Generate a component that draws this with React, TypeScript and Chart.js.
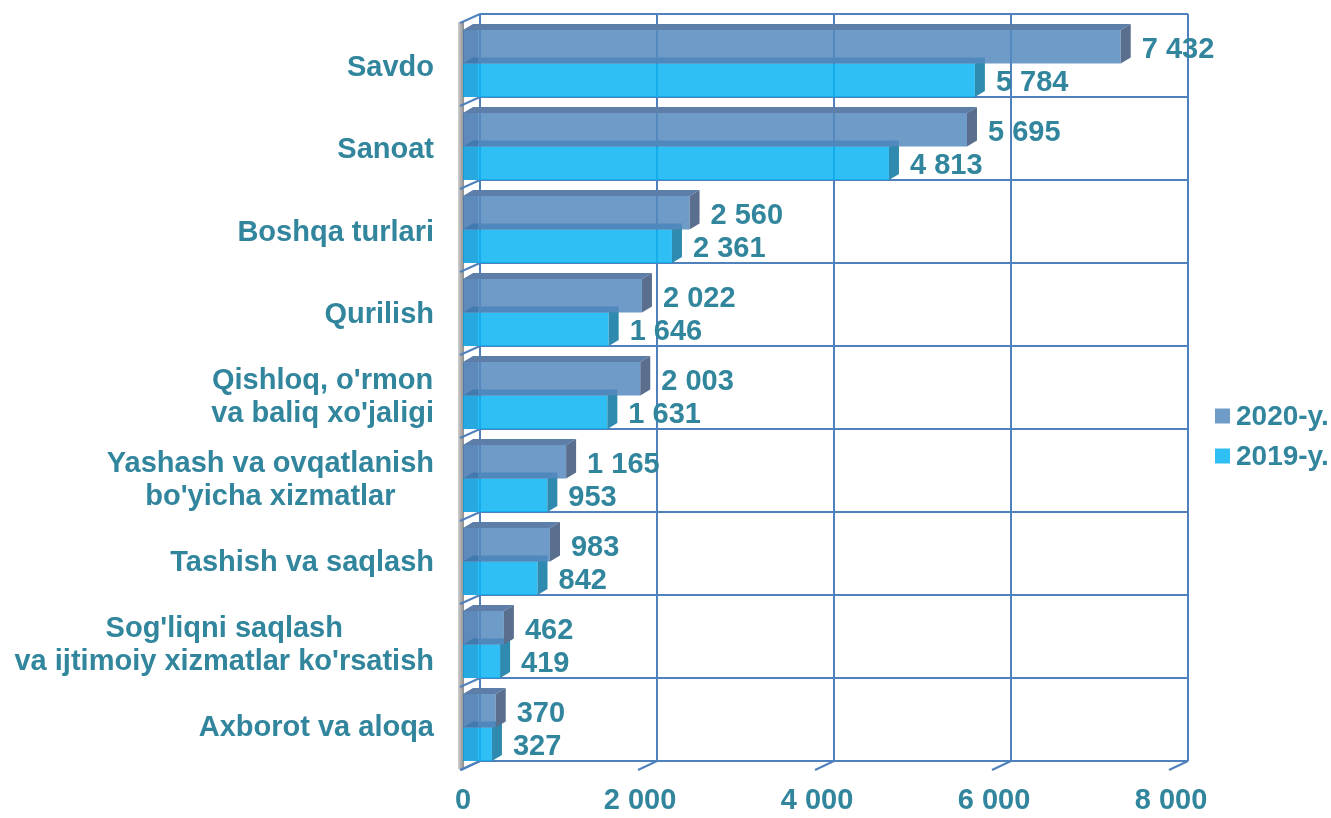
import React, { useEffect, useRef } from "react";
import { Chart, registerables } from "chart.js";

Chart.register(...registerables);

const categories: (string | string[])[] = [
  "Savdo",
  "Sanoat",
  "Boshqa turlari",
  "Qurilish",
  ["Qishloq, o'rmon", "va baliq xo'jaligi"],
  ["Yashash va ovqatlanish", "bo'yicha xizmatlar"],
  "Tashish va saqlash",
  ["Sog'liqni saqlash", "va ijtimoiy xizmatlar ko'rsatish"],
  "Axborot va aloqa",
];
const values2020 = [7432, 5695, 2560, 2022, 2003, 1165, 983, 462, 370];
const values2019 = [5784, 4813, 2361, 1646, 1631, 953, 842, 419, 327];
const seriesNames = ["2020-y.", "2019-y."];
const xTickValues = [0, 2000, 4000, 6000, 8000];

const TEXT = "#31859C";
const GRID = "#4F81BD";
const FONT = "'Liberation Sans', Arial, sans-serif";
const WALL_DX = 17;
const WALL_DY = -8;
const BAR_DX = 10;
const BAR_DY = -6;

const fmt = (v: number) => {
  const s = Math.round(v).toString();
  return s.replace(/\B(?=(\d{3})+(?!\d))/g, " ");
};

const faces = [
  { front: "rgb(111,155,200)", top: "#5C7EA8", side: "#5A6F8E", legend: "#6F9BC8" },
  { front: "rgb(47,191,245)", top: "#2A7FB5", side: "#2E8AAE", legend: "#2FBFF5" },
];

const threeD = {
  id: "threeD",
  beforeDatasetsDraw(chart: any) {
    const { ctx, chartArea: ca, scales } = chart;
    const x = scales.x;
    const n = chart.data.labels.length;
    const band = (ca.bottom - ca.top) / n;
    const x0 = x.getPixelForValue(0);
    const xMax = x.getPixelForValue(xTickValues[xTickValues.length - 1]);
    ctx.save();
    const g = ctx.createLinearGradient(x0 - 6, 0, x0 + 1, 0);
    g.addColorStop(0, "#D9D9D9");
    g.addColorStop(1, "#8C8C8C");
    ctx.fillStyle = g;
    ctx.fillRect(x0 - 5, ca.top, 6, ca.bottom - ca.top);
    ctx.strokeStyle = GRID;
    ctx.lineWidth = 2;
    for (const v of xTickValues) {
      const px = x.getPixelForValue(v) + WALL_DX;
      ctx.beginPath();
      ctx.moveTo(px, ca.top + WALL_DY);
      ctx.lineTo(px, ca.bottom + WALL_DY);
      ctx.stroke();
      ctx.beginPath();
      ctx.moveTo(px, ca.bottom + WALL_DY);
      ctx.lineTo(px - WALL_DX - 2, ca.bottom + 1);
      ctx.stroke();
    }
    for (let k = 0; k <= n; k++) {
      const py = ca.top + k * band + WALL_DY;
      ctx.beginPath();
      ctx.moveTo(x0 + WALL_DX, py);
      ctx.lineTo(xMax + WALL_DX, py);
      ctx.stroke();
      ctx.beginPath();
      ctx.moveTo(x0 + WALL_DX, py);
      ctx.lineTo(x0 - 3, py - WALL_DY + 1);
      ctx.stroke();
    }
    ctx.restore();
  },
  afterDatasetDraw(chart: any, args: any) {
    const { ctx } = chart;
    const f = faces[args.index];
    const meta = chart.getDatasetMeta(args.index);
    ctx.save();
    meta.data.forEach((el: any) => {
      const p = el.getProps(["x", "y", "base", "height"], true);
      const top = p.y - p.height / 2;
      const bottom = p.y + p.height / 2;
      ctx.fillStyle = f.top;
      ctx.beginPath();
      ctx.moveTo(p.base, top);
      ctx.lineTo(p.x, top);
      ctx.lineTo(p.x + BAR_DX, top + BAR_DY);
      ctx.lineTo(p.base + BAR_DX, top + BAR_DY);
      ctx.closePath();
      ctx.fill();
      ctx.fillStyle = f.side;
      ctx.beginPath();
      ctx.moveTo(p.x, top);
      ctx.lineTo(p.x + BAR_DX, top + BAR_DY);
      ctx.lineTo(p.x + BAR_DX, bottom + BAR_DY);
      ctx.lineTo(p.x, bottom);
      ctx.closePath();
      ctx.fill();
      ctx.fillStyle = "rgba(0,50,110,0.16)";
      ctx.fillRect(p.base, top, Math.min(15, p.x - p.base), p.height);
    });
    ctx.restore();
  },
  afterDatasetsDraw(chart: any) {
    const { ctx, scales } = chart;
    const y = scales.y;
    ctx.save();
    ctx.font = `bold 29px ${FONT}`;
    ctx.fillStyle = TEXT;
    ctx.textBaseline = "middle";
    ctx.textAlign = "left";
    chart.data.datasets.forEach((ds: any, di: number) => {
      const meta = chart.getDatasetMeta(di);
      meta.data.forEach((el: any, i: number) => {
        const p = el.getProps(["x", "y"], true);
        ctx.fillText(fmt(ds.data[i]), p.x + 21, p.y + 3);
      });
    });
    const right = 434;
    const lh = 33;
    chart.data.labels.forEach((lab: any, i: number) => {
      const lines: string[] = Array.isArray(lab) ? lab : [lab];
      const widths = lines.map((l) => ctx.measureText(l).width);
      const maxW = Math.max(...widths);
      const cx = right - maxW / 2;
      const cy = y.getPixelForValue(i) + 4 - 0.5 * i;
      ctx.textAlign = "center";
      lines.forEach((l, j) => {
        const ly = cy + (j - (lines.length - 1) / 2) * lh;
        ctx.fillText(l, cx, ly);
      });
    });
    ctx.font = `bold 28px ${FONT}`;
    ctx.textAlign = "left";
    const ly = [416, 456];
    chart.data.datasets.forEach((ds: any, di: number) => {
      ctx.fillStyle = faces[di].legend;
      ctx.fillRect(1215, ly[di] - 7.5, 15, 15);
      ctx.fillStyle = TEXT;
      ctx.fillText(ds.label, 1236, ly[di] + 1);
    });
    ctx.restore();
  },
};

export default function App() {
  const ref = useRef<HTMLCanvasElement | null>(null);
  useEffect(() => {
    document.body.style.margin = "0";
    if (!ref.current) return;
    const chart = new Chart(ref.current, {
      type: "bar",
      data: {
        labels: categories as any,
        datasets: [
          {
            label: seriesNames[0],
            data: values2020,
            backgroundColor: "rgba(86,137,190,0.85)",
            borderWidth: 0,
            categoryPercentage: 0.81,
            barPercentage: 1,
          },
          {
            label: seriesNames[1],
            data: values2019,
            backgroundColor: "rgba(10,180,243,0.85)",
            borderWidth: 0,
            categoryPercentage: 0.81,
            barPercentage: 1,
          },
        ],
      },
      options: {
        indexAxis: "y",
        animation: false,
        responsive: true,
        maintainAspectRatio: false,
        layout: { padding: { left: 463, right: 160, top: 22, bottom: 0 } },
        plugins: { legend: { display: false }, tooltip: { enabled: false } },
        scales: {
          x: {
            min: 0,
            max: 8000,
            afterBuildTicks: (s: any) => {
              s.ticks = xTickValues.map((v) => ({ value: v }));
            },
            afterFit: (s: any) => {
              s.height = 49;
            },
            grid: { display: false, drawTicks: false },
            border: { display: false },
            ticks: {
              padding: 15,
              color: TEXT,
              font: { family: FONT, size: 29, weight: "bold", lineHeight: 1.2 },
              callback: (v: any) => fmt(Number(v)),
              maxRotation: 0,
            },
          },
          y: { display: false },
        },
      },
      plugins: [threeD],
    });
    return () => chart.destroy();
  }, []);
  return (
    <div style={{ width: 1331, height: 818, position: "relative" }}>
      <canvas ref={ref} />
    </div>
  );
}
